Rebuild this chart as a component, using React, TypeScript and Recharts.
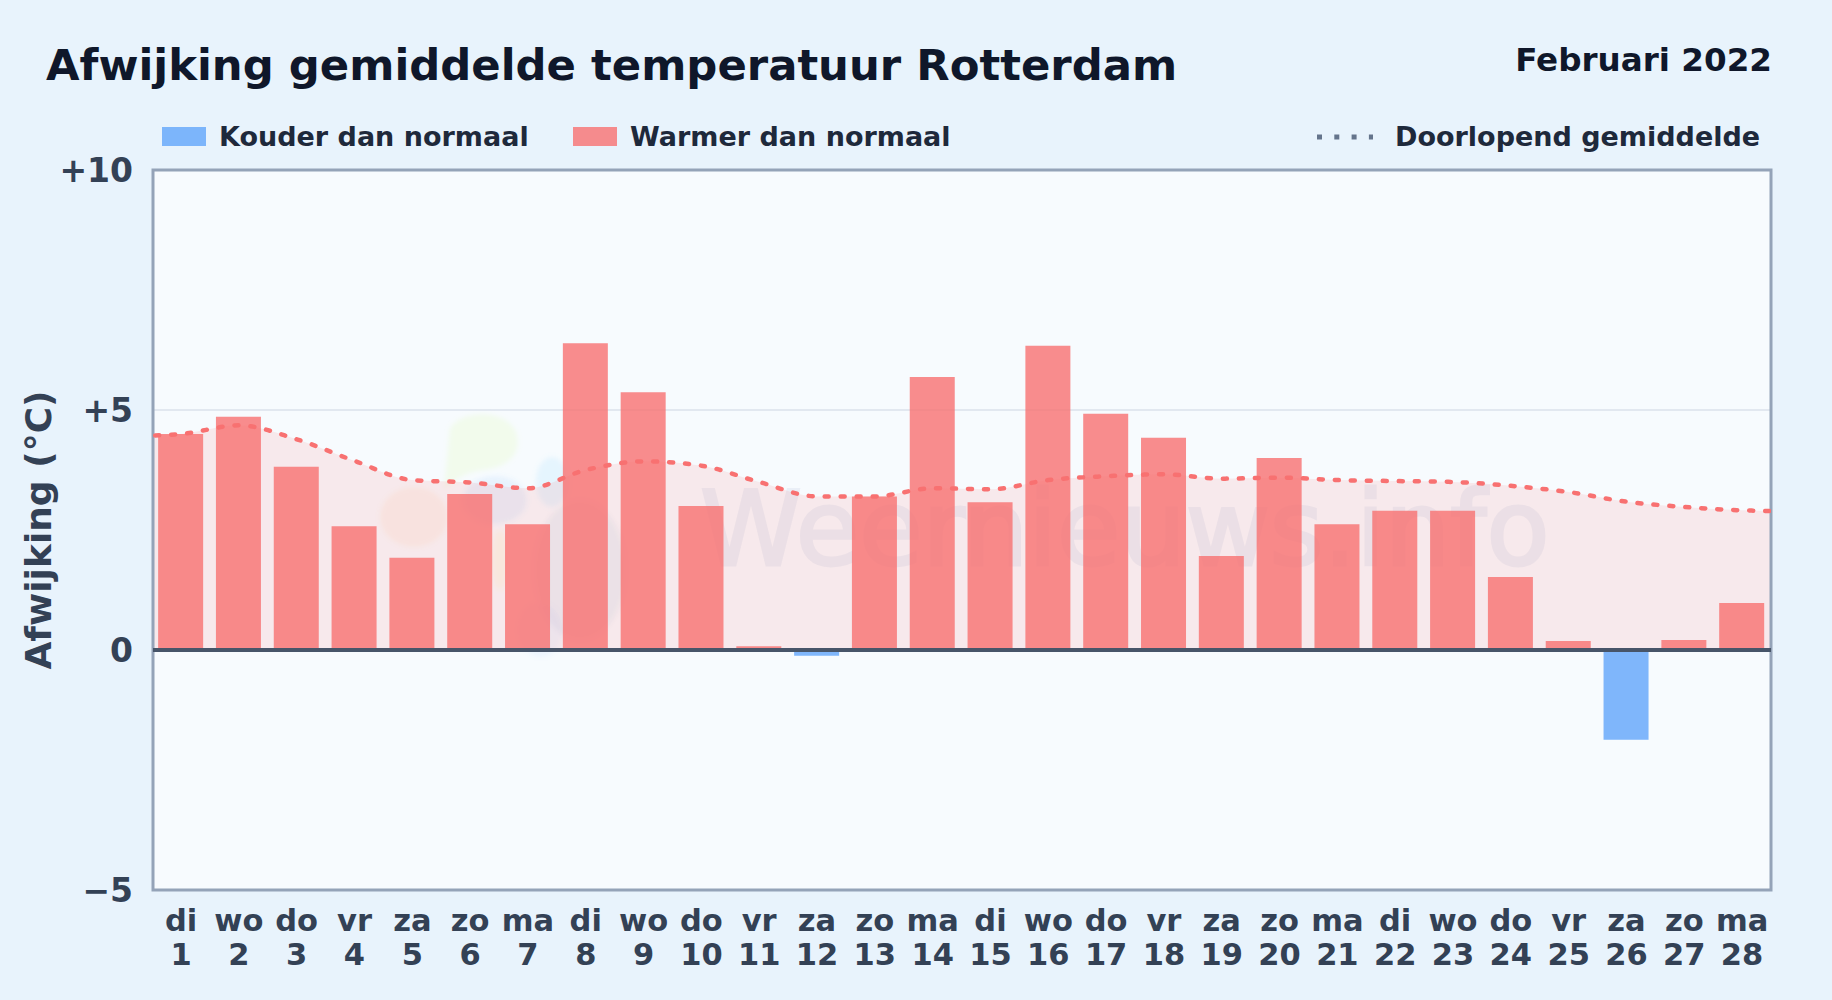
import { Area, Bar, CartesianGrid, ComposedChart, Line, ReferenceArea, ReferenceLine, XAxis, YAxis } from 'recharts';

const weekdays = ['di', 'wo', 'do', 'vr', 'za', 'zo', 'ma', 'di', 'wo', 'do', 'vr', 'za', 'zo', 'ma', 'di', 'wo', 'do', 'vr', 'za', 'zo', 'ma', 'di', 'wo', 'do', 'vr', 'za', 'zo', 'ma'];
const days = [1, 2, 3, 4, 5, 6, 7, 8, 9, 10, 11, 12, 13, 14, 15, 16, 17, 18, 19, 20, 21, 22, 23, 24, 25, 26, 27, 28];
const deviation = [4.5, 4.86, 3.82, 2.58, 1.92, 3.25, 2.62, 6.39, 5.37, 3.0, 0.08, -0.12, 3.2, 5.69, 3.08, 6.34, 4.92, 4.42, 1.96, 4.0, 2.62, 2.9, 2.9, 1.52, 0.19, -1.87, 0.21, 0.98];
const runningMean = [4.5, 4.68, 4.39, 3.94, 3.54, 3.49, 3.37, 3.75, 3.93, 3.84, 3.5, 3.2, 3.2, 3.37, 3.35, 3.54, 3.62, 3.66, 3.57, 3.59, 3.54, 3.52, 3.5, 3.42, 3.29, 3.09, 2.98, 2.91];
const yTicks = [-5, 0, 5, 10];

// the plot shows a bit less than the full day range
const xStart = 0.515;
const xEnd = 28.5;
// the mean line runs on past both edges, clipped by the plot
const meanBefore = 4.45;
const meanAfter = 2.89;

const chartData = [
  { day: 0, mean: meanBefore },
  ...days.map((day, i) => ({
    day,
    warm: deviation[i] >= 0 ? deviation[i] : null,
    cold: deviation[i] < 0 ? deviation[i] : null,
    mean: runningMean[i],
  })),
  { day: 29, mean: meanAfter },
];

const FONT = '"DejaVu Sans", sans-serif';
const RED = '#f87171';
const BLUE = '#60a5fa';
const SLATE = '#334155';

function DayTick({ x, y, payload }: any) {
  return (
    <text x={x} textAnchor="middle" fontFamily={FONT} fontWeight={700} fontSize={30.5} fill={SLATE}>
      <tspan x={x} y={y + 33}>{weekdays[payload.value - 1]}</tspan>
      <tspan x={x} y={y + 67}>{payload.value}</tspan>
    </text>
  );
}

function yLabel(v: number) {
  if (v > 0) return `+${v}`;
  if (v < 0) return `\u2212${Math.abs(v)}`;
  return '0';
}

function Swatch({ color, left }: { color: string; left: number }) {
  return <div style={{ position: 'absolute', left, top: 127, width: 44, height: 19, background: color, opacity: 0.8 }} />;
}

function LegendText({ left, children }: { left: number; children: string }) {
  return (
    <div style={{ position: 'absolute', left, top: 121, fontFamily: FONT, fontWeight: 700, fontSize: 27, lineHeight: '32px', color: '#1e293b', whiteSpace: 'nowrap' }}>
      {children}
    </div>
  );
}

// faint logo behind the bars
function LogoWatermark() {
  return (
    <g filter="url(#logoBlur)">
      <defs>
        <filter id="logoBlur" x="-20%" y="-20%" width="140%" height="140%">
          <feGaussianBlur stdDeviation={2.5} />
        </filter>
      </defs>
      <path d="M450 428 C462 410 505 408 516 432 C524 455 505 468 482 470 C462 473 452 482 444 490 Z" fill="#d9f99d" fillOpacity={0.18} />
      <ellipse cx={414} cy={517} rx={34} ry={30} fill="#fdba74" fillOpacity={0.11} />
      <ellipse cx={500} cy={560} rx={8} ry={30} fill="#fde047" fillOpacity={0.1} />
      <ellipse cx={495} cy={500} rx={32} ry={24} fill="#60a5fa" fillOpacity={0.1} />
      <ellipse cx={552} cy={482} rx={16} ry={25} fill="#7dd3fc" fillOpacity={0.15} />
      <ellipse cx={580} cy={570} rx={46} ry={70} fill="#1e3a8a" fillOpacity={0.05} />
      <ellipse cx={541} cy={630} rx={22} ry={27} fill="#60a5fa" fillOpacity={0.08} />
    </g>
  );
}

export default function App() {
  return (
    <div style={{ position: 'absolute', left: 0, top: 0, width: 1832, height: 1000, background: '#e8f3fc' }}>
      <div style={{ position: 'absolute', left: 46, top: 38, fontFamily: FONT, fontWeight: 700, fontSize: 43.35, lineHeight: '54px', color: '#0f172a', whiteSpace: 'nowrap' }}>
        Afwijking gemiddelde temperatuur Rotterdam
      </div>
      <div style={{ position: 'absolute', right: 60, top: 40, fontFamily: FONT, fontWeight: 700, fontSize: 32.6, lineHeight: '40px', color: '#0f172a', whiteSpace: 'nowrap' }}>
        Februari 2022
      </div>

      <Swatch color={BLUE} left={162} />
      <LegendText left={219}>Kouder dan normaal</LegendText>
      <Swatch color={RED} left={573} />
      <LegendText left={630}>Warmer dan normaal</LegendText>
      <svg style={{ position: 'absolute', left: 1315, top: 130 }} width={62} height={14}>
        <line x1={2} x2={58} y1={7} y2={7} stroke="#64748b" strokeWidth={5} strokeDasharray="5 12.3" />
      </svg>
      <LegendText left={1395}>Doorlopend gemiddelde</LegendText>

      <ComposedChart
        width={1832}
        height={1000}
        data={chartData}
        stackOffset="sign"
        margin={{ top: 170, right: 61, bottom: 0, left: 0 }}
        style={{ position: 'absolute', left: 0, top: 0 }}
      >
        <CartesianGrid vertical={false} stroke="#e2e8f0" strokeWidth={2} fill="#f7fbfe" />
        <LogoWatermark />
        <text x={700} y={565} fontFamily={FONT} fontSize={103} fill="#1e3a8a" stroke="#1e3a8a" strokeWidth={3} opacity={0.055}>Weernieuws.info</text>
        <XAxis
          dataKey="day"
          type="number"
          domain={[xStart, xEnd]}
          allowDataOverflow
          ticks={days}
          interval={0}
          height={110}
          axisLine={false}
          tickLine={false}
          tick={<DayTick />}
        />
        <YAxis
          domain={[-5, 10]}
          ticks={yTicks}
          width={153}
          axisLine={false}
          tickLine={false}
          tickMargin={14}
          tickFormatter={yLabel}
          tick={{ fontFamily: FONT, fontWeight: 700, fontSize: 33, fill: SLATE }}
          label={{ value: 'Afwijking (°C)', angle: -90, position: 'insideLeft', offset: 38.5, style: { fontFamily: FONT, fontWeight: 700, fontSize: 36, fill: SLATE, textAnchor: 'middle' } }}
        />
        <Area dataKey="mean" type="monotone" stroke="none" fill={RED} fillOpacity={0.13} isAnimationActive={false} />
        <Bar dataKey="warm" stackId="d" barSize={45} fill={RED} fillOpacity={0.8} isAnimationActive={false} />
        <Bar dataKey="cold" stackId="d" barSize={45} fill={BLUE} fillOpacity={0.8} isAnimationActive={false} />
        <Line dataKey="mean" type="monotone" stroke={RED} strokeWidth={4.5} strokeLinecap="round" strokeDasharray="4 12" dot={false} isAnimationActive={false} />
        <ReferenceLine y={0} stroke="#475569" strokeWidth={4} />
        <ReferenceArea x1={xStart} x2={xEnd} y1={-5} y2={10} fill="none" stroke="#94a3b8" strokeWidth={3} />
      </ComposedChart>
    </div>
  );
}
